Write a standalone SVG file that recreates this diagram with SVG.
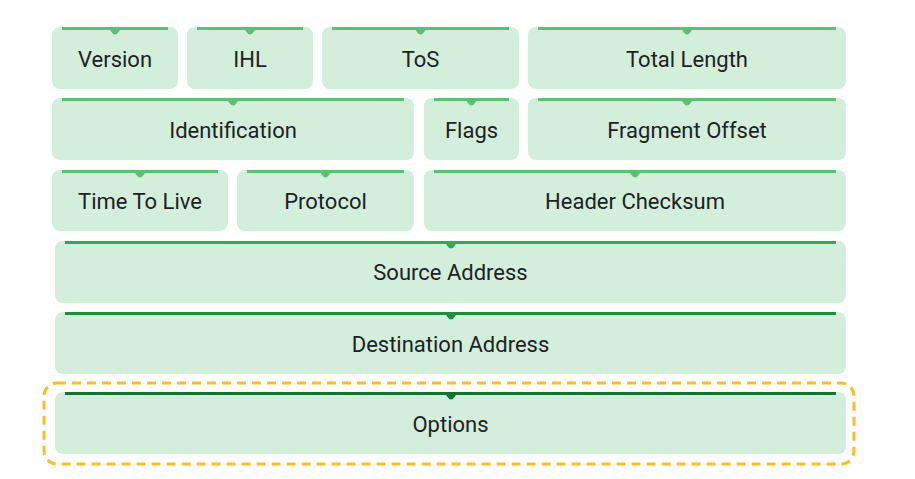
<svg xmlns="http://www.w3.org/2000/svg" width="915" height="479" viewBox="0 0 915 479">
<style>
.box{fill:#d3efdc}
.t{font-family:Roboto,"Liberation Sans",sans-serif;font-size:22px;fill:#202124;text-anchor:middle;dominant-baseline:central}
.l1{stroke:#5bbf76;stroke-width:3}
.n1{fill:#5bbf76}
.l4{stroke:#34a853;stroke-width:3}
.n4{fill:#34a853}
.l5{stroke:#1e8e3e;stroke-width:3}
.n5{fill:#1e8e3e}
.l6{stroke:#137333;stroke-width:3}
.n6{fill:#137333}
.opt{fill:none;stroke:#f9bd2b;stroke-width:3;stroke-dasharray:9 6}
</style>
<defs>
<path id="notch" d="M-8 -1 Q-5 -1 -4 2 Q0 8 4 2 Q5 -1 8 -1Z"/>
</defs>
<rect width="915" height="479" fill="#ffffff"/>
<g id="version"><rect class="box" x="52" y="27" width="126" height="62" rx="8"/><line class="l1" x1="62" y1="28.5" x2="168" y2="28.5"/><use href="#notch" class="n1" x="115" y="29.5"/><text class="t" x="115" y="59">Version</text></g>
<g id="ihl"><rect class="box" x="187" y="27" width="126" height="62" rx="8"/><line class="l1" x1="197" y1="28.5" x2="303" y2="28.5"/><use href="#notch" class="n1" x="250" y="29.5"/><text class="t" x="250" y="59">IHL</text></g>
<g id="tos"><rect class="box" x="322" y="27" width="197" height="62" rx="8"/><line class="l1" x1="332" y1="28.5" x2="509" y2="28.5"/><use href="#notch" class="n1" x="420.5" y="29.5"/><text class="t" x="420.5" y="59">ToS</text></g>
<g id="total-length"><rect class="box" x="528" y="27" width="318" height="62" rx="8"/><line class="l1" x1="538" y1="28.5" x2="836" y2="28.5"/><use href="#notch" class="n1" x="687" y="29.5"/><text class="t" x="687" y="59">Total Length</text></g>
<g id="identification"><rect class="box" x="52" y="98" width="362" height="62" rx="8"/><line class="l1" x1="62" y1="99.5" x2="404" y2="99.5"/><use href="#notch" class="n1" x="233" y="100.5"/><text class="t" x="233" y="130">Identification</text></g>
<g id="flags"><rect class="box" x="424" y="98" width="95" height="62" rx="8"/><line class="l1" x1="434" y1="99.5" x2="509" y2="99.5"/><use href="#notch" class="n1" x="471.5" y="100.5"/><text class="t" x="471.5" y="130">Flags</text></g>
<g id="fragment-offset"><rect class="box" x="528" y="98" width="318" height="62" rx="8"/><line class="l1" x1="538" y1="99.5" x2="836" y2="99.5"/><use href="#notch" class="n1" x="687" y="100.5"/><text class="t" x="687" y="130">Fragment Offset</text></g>
<g id="ttl"><rect class="box" x="52" y="170" width="176" height="61" rx="8"/><line class="l1" x1="62" y1="171.5" x2="218" y2="171.5"/><use href="#notch" class="n1" x="140" y="172.5"/><text class="t" x="140" y="201">Time To Live</text></g>
<g id="protocol"><rect class="box" x="237" y="170" width="177" height="61" rx="8"/><line class="l1" x1="247" y1="171.5" x2="404" y2="171.5"/><use href="#notch" class="n1" x="325.5" y="172.5"/><text class="t" x="325.5" y="201">Protocol</text></g>
<g id="header-checksum"><rect class="box" x="424" y="170" width="422" height="61" rx="8"/><line class="l1" x1="434" y1="171.5" x2="836" y2="171.5"/><use href="#notch" class="n1" x="635" y="172.5"/><text class="t" x="635" y="201">Header Checksum</text></g>
<g id="source-address"><rect class="box" x="55" y="241" width="791" height="62" rx="8"/><line class="l4" x1="65" y1="242.5" x2="836" y2="242.5"/><use href="#notch" class="n4" x="451" y="243.5"/><text class="t" x="450.5" y="272">Source Address</text></g>
<g id="destination-address"><rect class="box" x="55" y="312" width="791" height="62" rx="8"/><line class="l5" x1="65" y1="313.5" x2="836" y2="313.5"/><use href="#notch" class="n5" x="451" y="314.5"/><text class="t" x="450.5" y="344">Destination Address</text></g>
<g id="options"><rect class="opt" x="44" y="383" width="810" height="81" rx="13"/><rect class="box" x="55" y="392" width="791" height="62" rx="8"/><line class="l6" x1="65" y1="393.5" x2="836" y2="393.5"/><use href="#notch" class="n6" x="451" y="394.5"/><text class="t" x="450.5" y="424">Options</text></g>
</svg>
